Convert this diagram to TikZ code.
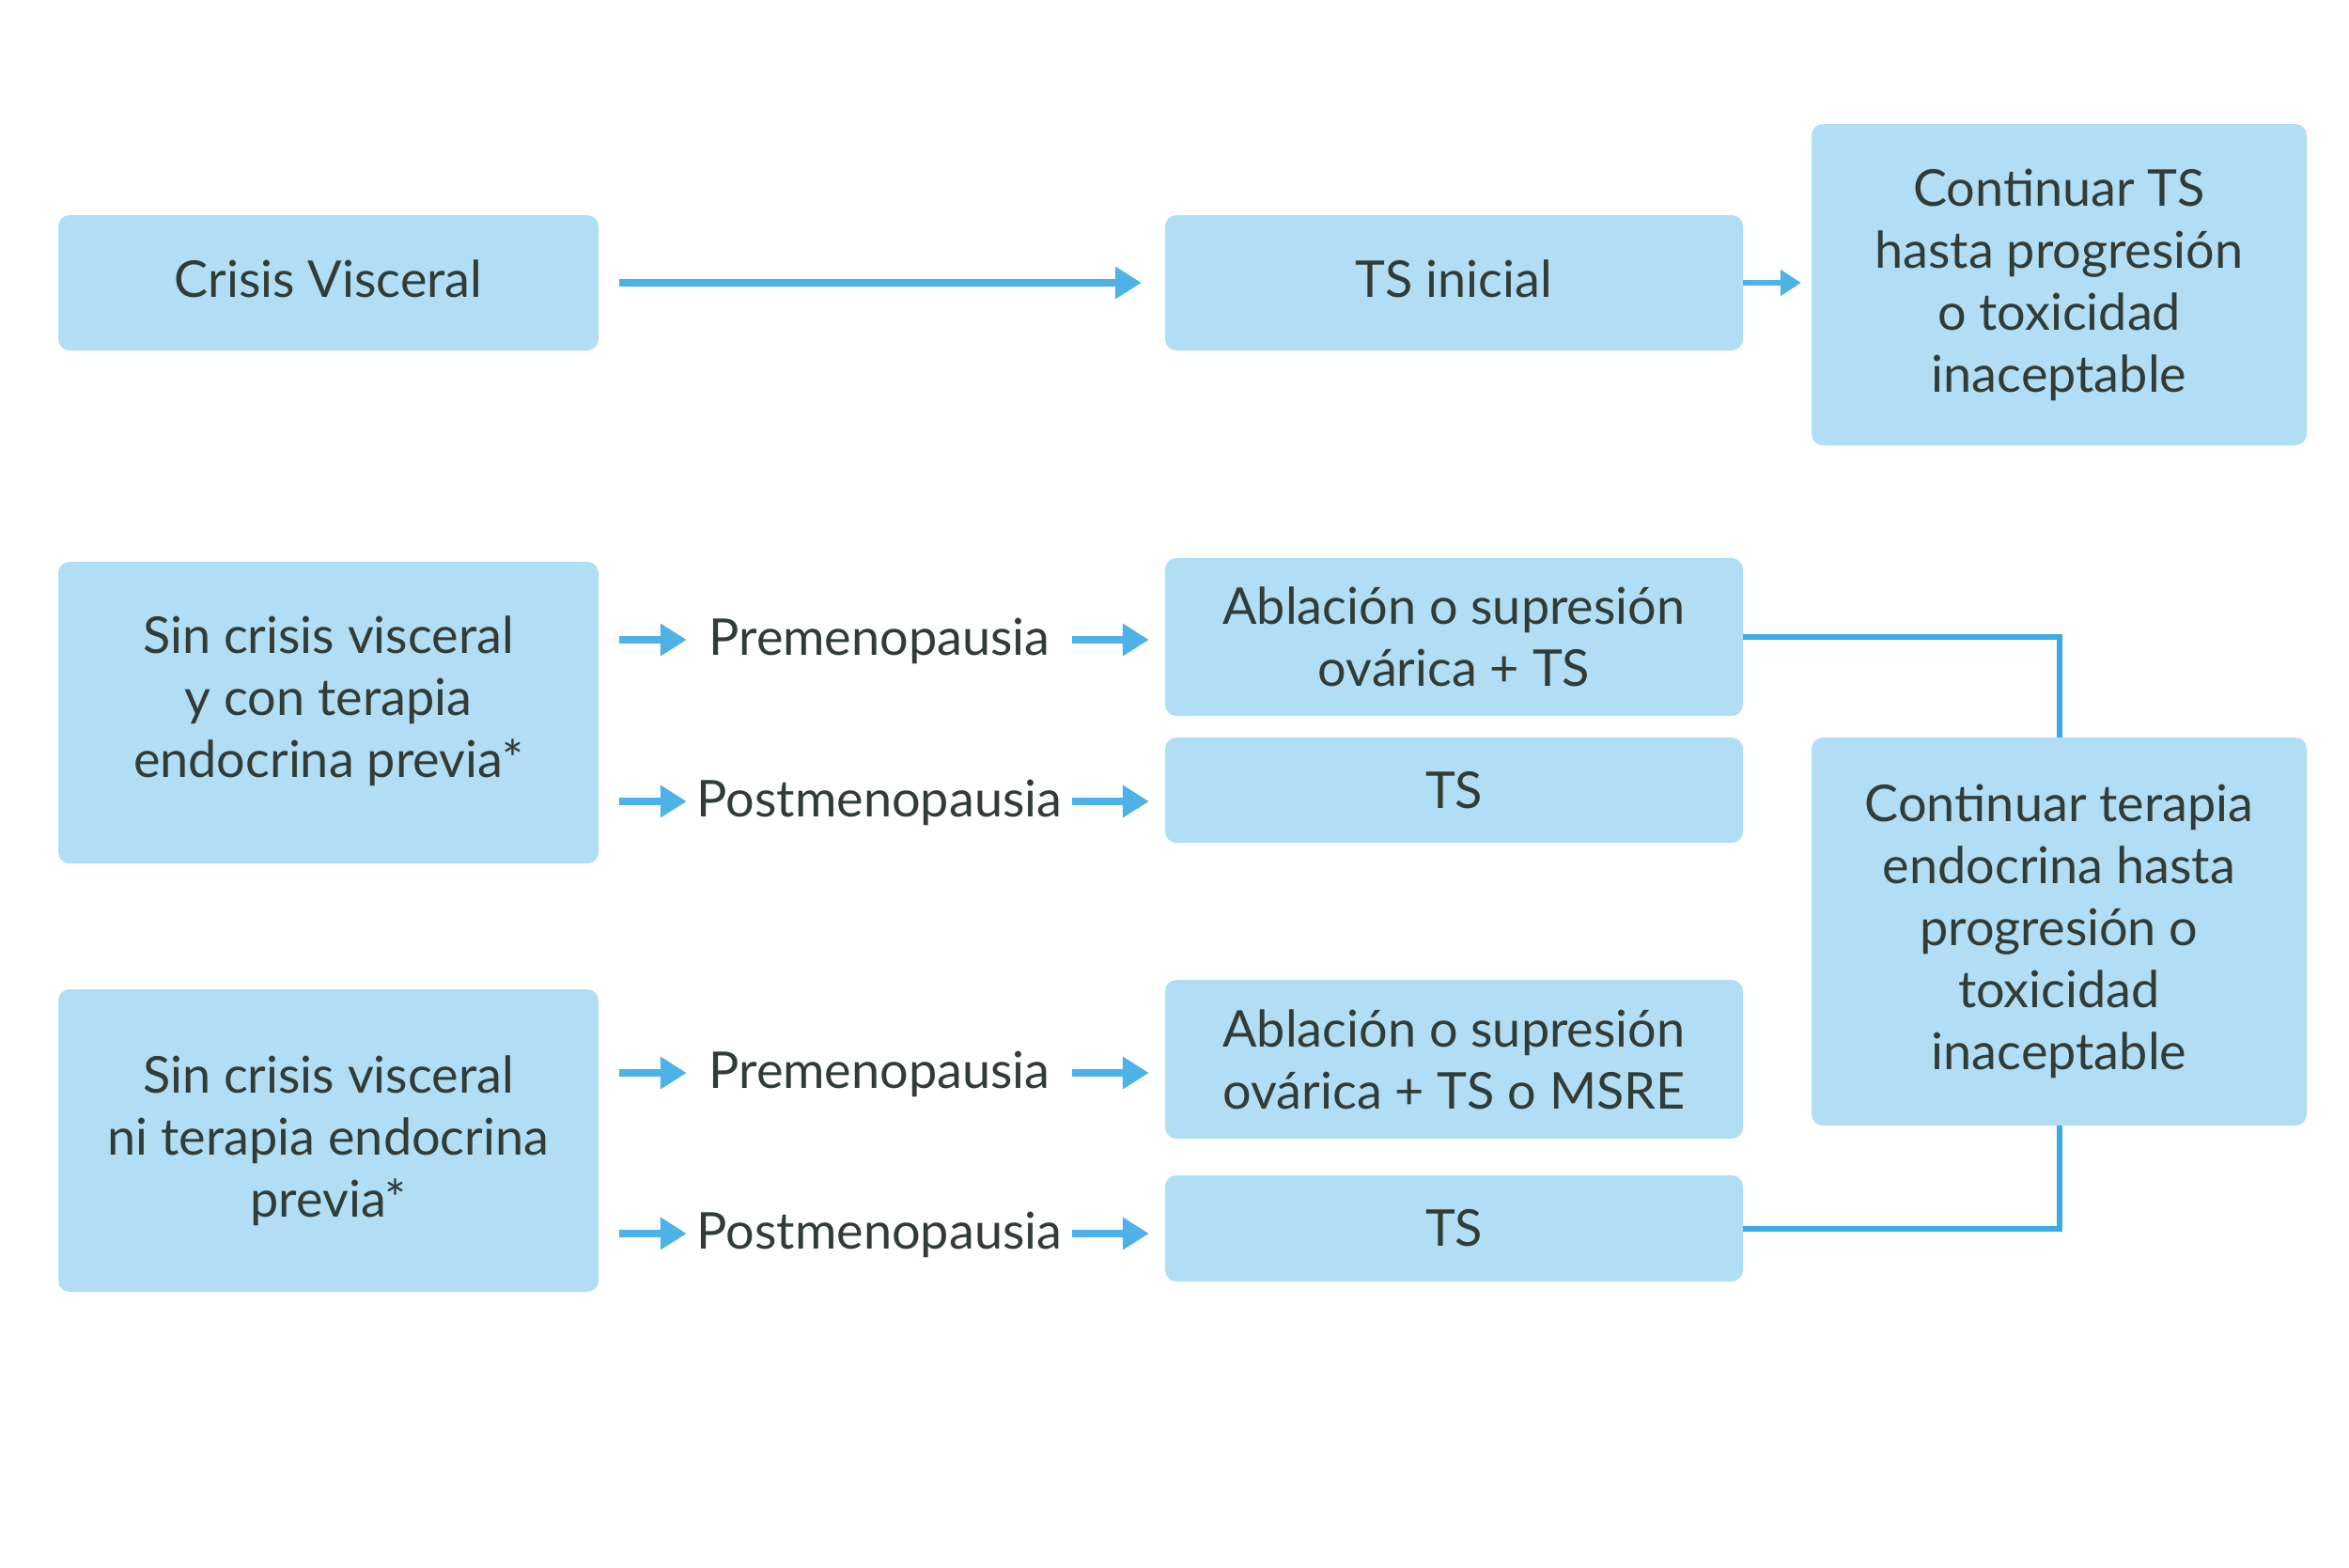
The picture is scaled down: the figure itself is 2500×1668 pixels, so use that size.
\documentclass[tikz,border=0pt]{standalone}
\usepackage{fontspec}
\setmainfont{Lato}
\usetikzlibrary{arrows.meta}
\definecolor{boxfill}{HTML}{B1DEF4}
\definecolor{txt}{HTML}{323C36}
\definecolor{arrc}{HTML}{4FB2E6}
\definecolor{linec}{HTML}{3DAAE2}
\begin{document}
\begin{tikzpicture}[x=1pt,y=-1pt,
  box/.style={fill=boxfill, rounded corners=12pt, text=txt, align=center, inner sep=0pt,
    font=\fontsize{54}{66}\selectfont},
  lbl/.style={text=txt, inner sep=0pt, minimum width=410pt, anchor=base,
    font=\fontsize{54}{66}\selectfont},
  arr/.style={draw=arrc, line width=8.5pt, -{Triangle[length=28pt,width=33pt]}},
  arrsmall/.style={draw=arrc, line width=6.5pt, -{Triangle[length=22pt,width=27pt]}},
  conn/.style={draw=linec, line width=6pt}]
\useasboundingbox (0,0) rectangle (2500,1668);
% left column
\node[box, minimum width=575pt, minimum height=144pt] (cv) at (349.5,301) {Crisis Visceral\rule[-8pt]{0pt}{0pt}};
\node[box, minimum width=575pt, minimum height=321pt] (s1) at (349.5,758.5) {Sin crisis visceral\\y con terapia\\endocrina previa*\rule[-34pt]{0pt}{0pt}};
\node[box, minimum width=575pt, minimum height=322pt] (s2) at (349.5,1214) {Sin crisis visceral\\ni terapia endocrina\\previa*};
% middle column
\node[box, minimum width=615pt, minimum height=144pt] (ts0) at (1547.5,301) {TS inicial\rule[-8pt]{0pt}{0pt}};
\node[box, minimum width=615pt, minimum height=168pt] (abl1) at (1547.5,678) {Ablación o supresión\\ovárica + TS};
\node[box, minimum width=615pt, minimum height=112pt] (ts1) at (1547.5,841) {TS};
\node[box, minimum width=615pt, minimum height=169pt] (abl2) at (1547.5,1127.5) {Ablación o supresión\\ovárica + TS o MSRE};
\node[box, minimum width=615pt, minimum height=113pt] (ts2) at (1547.5,1307.5) {TS};
% right column
\node[box, minimum width=527pt, minimum height=342pt] (cts) at (2191.5,303) {Continuar TS\\hasta progresión\\o toxicidad\\inaceptable};
\node[box, minimum width=527pt, minimum height=413pt] (ctt) at (2191.5,991.5) {Continuar terapia\\endocrina hasta\\progresión o\\toxicidad\\inaceptable};
% labels (baseline 16pt below the arrow line)
\node[lbl] (pre1) at (936,697) {Premenopausia};
\node[lbl] (post1) at (936,869) {Postmenopausia};
\node[lbl] (pre2) at (936,1158) {Premenopausia};
\node[lbl] (post2) at (936,1329) {Postmenopausia};
% arrows
\draw[arr, shorten <=22pt, shorten >=25pt] (cv.east) -- (ts0.west);
\draw[arrsmall, shorten >=11pt] (ts0.east) -- (ts0.east -| cts.west);
\foreach \l/\s/\t in {pre1/s1/abl1, post1/s1/ts1, pre2/s2/abl2, post2/s2/ts2}{
  \coordinate (\l-w) at ([yshift=16pt]\l.base west);
  \coordinate (\l-e) at ([yshift=16pt]\l.base east);
  \draw[arr, shorten <=22pt] (\s.east |- \l-w) -- (\l-w);
  \draw[arr, shorten >=17pt] (\l-e) -- (\t.west |- \l-e);
}
% connectors to right box
\draw[conn] (abl1.east) -| (ctt.north);
\draw[conn] (ctt.south) |- (ts2.east);
\end{tikzpicture}
\end{document}
